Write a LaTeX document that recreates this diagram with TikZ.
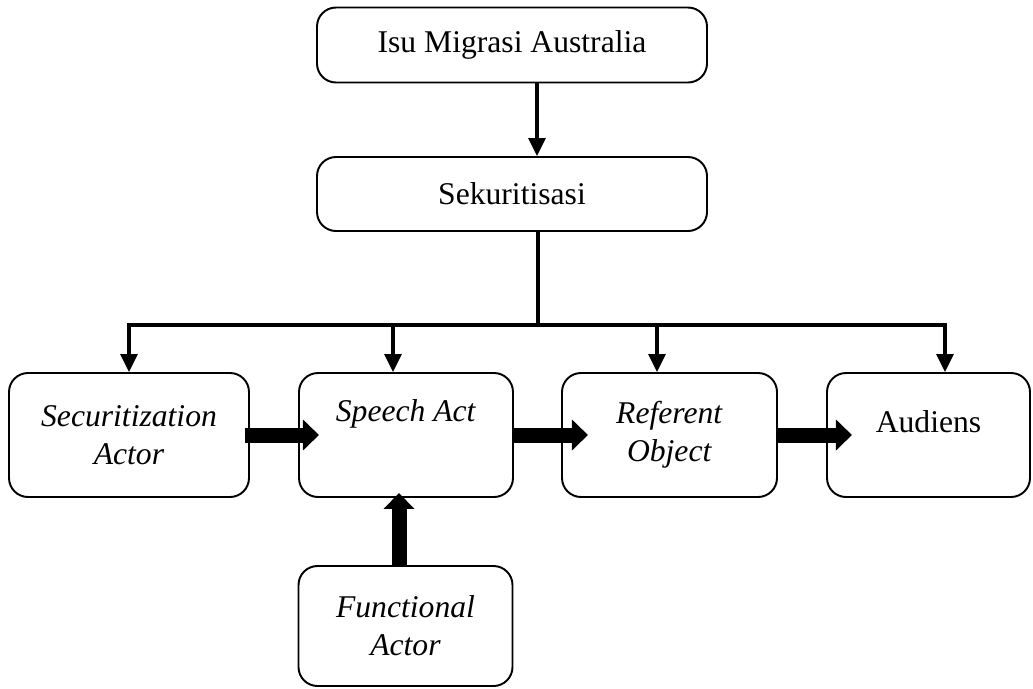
\documentclass[tikz,border=0pt]{standalone}
\usepackage{fontspec}
\setmainfont{Liberation Serif}
\usepackage{tikz}
\usetikzlibrary{positioning,arrows.meta}
\tikzset{
	box/.style={
		rectangle,
		rounded corners=0.38cm,
		draw,
		line width=1.1pt,
		fill=white,
		align=center,
		inner sep=0pt,
		font=\fontsize{18}{21.5}\selectfont
	},
	link/.style={
		line width=1.8pt,
		-{Triangle[width=0.34cm,length=0.36cm]}
	},
	fatarrow/.style={
		line width=0.3cm,
		-{Triangle[width=0.6cm,length=0.32cm]}
	}
}

\begin{document}
\begin{tikzpicture}
			\useasboundingbox (0,0) rectangle (20.66,-13.76);
			\node [box, minimum width=7.8cm, minimum height=1.5cm] (isu) at (10.24,-0.9) {Isu Migrasi Australia};
			\node [box, minimum width=7.8cm, minimum height=1.48cm] (sek) at (10.24,-3.88) {Sekuritisasi};
			\node [box, minimum width=4.8cm, minimum height=2.48cm] (actor) at (2.58,-8.7) {\textit{Securitization}\\\textit{Actor}};
			\node [box, minimum width=4.28cm, minimum height=2.48cm] (speech) at (8.12,-8.7) {\textit{Speech Act}\\\strut};
			\node [box, minimum width=4.3cm, minimum height=2.48cm] (referent) at (13.39,-8.7) {\textit{Referent}\\\textit{Object}};
			\node [box, minimum width=4.06cm, minimum height=2.48cm, text depth=0.55cm] (audiens) at (18.57,-8.7) {Audiens};
			\node [box, minimum width=4.28cm, minimum height=2.4cm] (functional) at (8.11,-12.52) {\textit{Functional}\\\textit{Actor}};
			% garis ke empat komponen
			\coordinate (hub) at (10.76,-6.5);
			\coordinate (d1) at (2.58,-6.5);
			\coordinate (d2) at (7.86,-6.5);
			\coordinate (d3) at (13.14,-6.5);
			\coordinate (d4) at (18.9,-6.5);
			\draw [link] ([xshift=0.5cm]isu.south) -- ([xshift=0.5cm]sek.north);
			\draw [link, -] (sek.south -| hub) -- (hub);
			\draw [link, {Triangle[width=0.34cm,length=0.36cm]}-{Triangle[width=0.34cm,length=0.36cm]}] (actor.north -| d1) -- (d1) -- (d4) -- (audiens.north -| d4);
			\foreach \d/\n in {d2/speech,d3/referent}
				\draw [link] (\d) -- (\n.north -| \d);
			% panah tebal
			\draw [fatarrow] ([xshift=-0.1cm]actor.east) -- ++(1.48,0);
			\draw [fatarrow] (speech.east) -- ++(1.48,0);
			\draw [fatarrow] (referent.east) -- ++(1.48,0);
			\draw [fatarrow] ([xshift=-0.13cm]functional.north) -- ([xshift=-0.13cm,yshift=0.1cm]functional.north |- speech.south);
		\end{tikzpicture}
\end{document}
